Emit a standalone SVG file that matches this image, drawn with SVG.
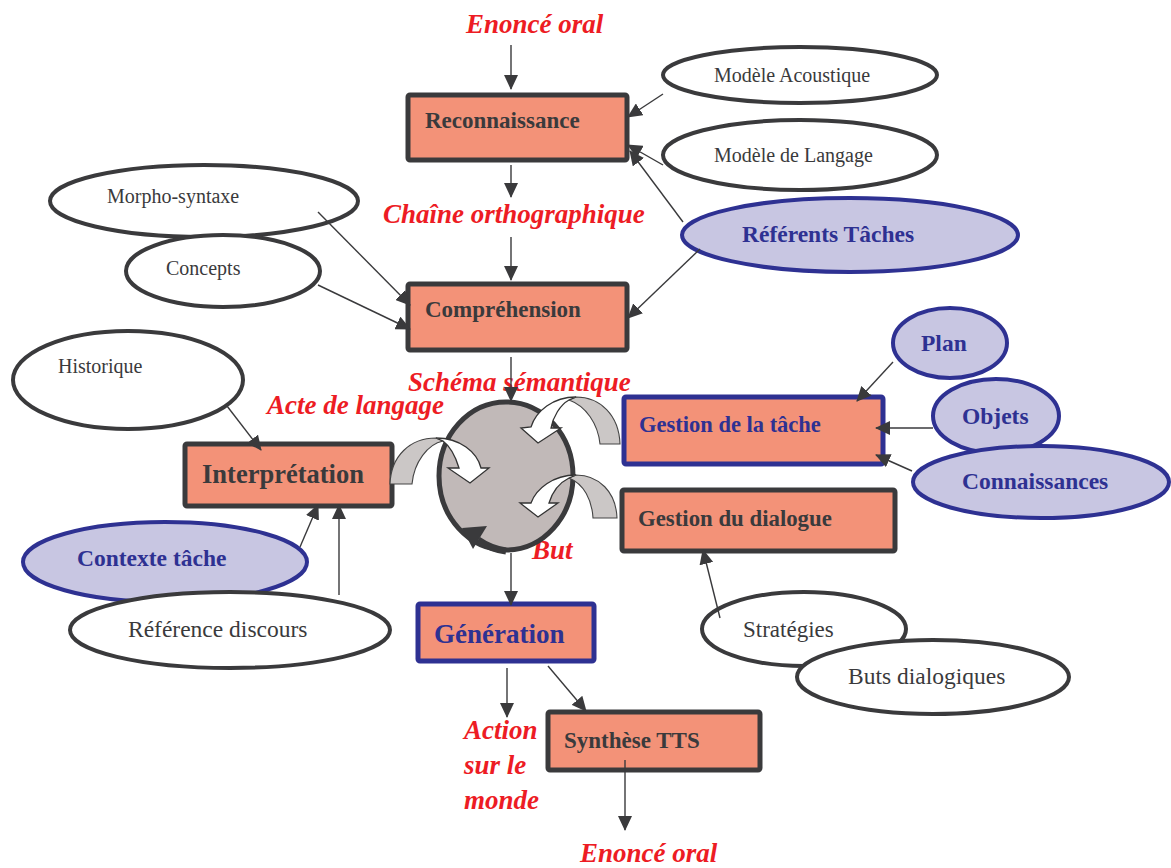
<svg xmlns="http://www.w3.org/2000/svg" width="1171" height="868" viewBox="0 0 1171 868">
<defs>
<style>
.box{fill:#f39278;stroke:#3a3a3c;stroke-width:5}
.boxb{fill:#f39278;stroke:#2e3192;stroke-width:5}
.ell{fill:#fff;stroke:#3a3a3c;stroke-width:4}
.ellb{fill:#c8c6e2;stroke:#2e3192;stroke-width:4}
.t{font-family:"Liberation Serif","Times New Roman",serif;fill:#3a3a3c}
.tb{font-family:"Liberation Serif","Times New Roman",serif;font-weight:bold;fill:#3a3a3c;font-size:23px}
.tbb{font-family:"Liberation Serif","Times New Roman",serif;font-weight:bold;fill:#2e3192;font-size:23.5px}
.lab{font-family:"Liberation Serif","Times New Roman",serif;font-weight:bold;font-style:italic;fill:#ed1c24;font-size:27px}
.c{stroke:#3a3a3c;stroke-width:1.4;fill:none;marker-end:url(#ah)}
.ua{fill:#cbc7c6;stroke:#444;stroke-width:1.1}
.uh{fill:#fff;stroke:#333;stroke-width:1.3;stroke-linejoin:miter}
</style>
<marker id="ah" markerUnits="userSpaceOnUse" markerWidth="16" markerHeight="14" refX="14" refY="7" orient="auto">
<path d="M0,0 L15,7 L0,14 Z" fill="#3a3a3c"/>
</marker>
</defs>
<rect width="1171" height="868" fill="#fff"/>

<g id="labels">
<text class="lab" x="466" y="33">Enoncé oral</text>
<text class="lab" x="383" y="223">Chaîne orthographique</text>
<text class="lab" x="408" y="391">Schéma sémantique</text>
<text class="lab" x="267" y="414">Acte de langage</text>
<text class="lab" x="532" y="559">But</text>
<text class="lab" x="464" y="739">Action</text>
<text class="lab" x="464" y="774">sur le</text>
<text class="lab" x="464" y="809">monde</text>
<text class="lab" x="580" y="862">Enoncé oral</text>
</g>

<g id="n-modele-acoustique"><ellipse class="ell" cx="800" cy="75" rx="137" ry="28"/><text class="t" x="714" y="82" font-size="20">Modèle Acoustique</text></g>
<g id="n-modele-langage"><ellipse class="ell" cx="800" cy="155" rx="137" ry="35"/><text class="t" x="714" y="162" font-size="20">Modèle de Langage</text></g>
<g id="n-referents"><ellipse class="ellb" cx="850" cy="235" rx="168" ry="37"/><text class="tbb" x="742" y="242">Référents Tâches</text></g>
<g id="n-morpho"><ellipse class="ell" cx="204" cy="201" rx="154" ry="36"/><text class="t" x="107" y="203" font-size="20">Morpho-syntaxe</text></g>
<g id="n-concepts"><ellipse class="ell" cx="223" cy="271" rx="97" ry="36"/><text class="t" x="166" y="275" font-size="20">Concepts</text></g>
<g id="n-historique"><ellipse class="ell" cx="128" cy="380" rx="115" ry="49"/><text class="t" x="58" y="373" font-size="20">Historique</text></g>
<g id="n-contexte"><ellipse class="ellb" cx="165" cy="562" rx="142" ry="40"/><text class="tbb" x="77" y="566">Contexte tâche</text></g>
<g id="n-reference"><ellipse class="ell" cx="230" cy="630" rx="160" ry="38"/><text class="t" x="128" y="637" font-size="23.5">Référence discours</text></g>
<g id="n-plan"><ellipse class="ellb" cx="950" cy="343" rx="57" ry="35"/><text class="tbb" x="921" y="351">Plan</text></g>
<g id="n-objets"><ellipse class="ellb" cx="996" cy="416" rx="63" ry="37"/><text class="tbb" x="962" y="424">Objets</text></g>
<g id="n-connaissances"><ellipse class="ellb" cx="1041" cy="482" rx="128" ry="36"/><text class="tbb" x="962" y="489">Connaissances</text></g>
<g id="n-strategies"><ellipse class="ell" cx="804" cy="629" rx="102" ry="37"/><text class="t" x="743" y="637" font-size="23">Stratégies</text></g>
<g id="n-buts"><ellipse class="ell" cx="933" cy="677" rx="136" ry="37"/><text class="t" x="848" y="684" font-size="23.5">Buts dialogiques</text></g>

<g id="n-reconnaissance"><rect class="box" x="408" y="95" width="219" height="65" rx="2"/><text class="tb" x="425" y="128">Reconnaissance</text></g>
<g id="n-comprehension"><rect class="box" x="408" y="284" width="219" height="66" rx="2"/><text class="tb" x="425" y="317">Compréhension</text></g>
<g id="n-interpretation"><rect class="box" x="185" y="444" width="207" height="62" rx="2"/><text class="tb" x="202" y="483" style="font-size:26.5px">Interprétation</text></g>
<g id="n-gestion-tache"><rect class="boxb" x="624" y="397" width="259" height="67" rx="2"/><text class="tbb" x="639" y="432" style="font-size:22.5px">Gestion de la tâche</text></g>
<g id="n-gestion-dialogue"><rect class="box" x="622" y="490" width="273" height="61" rx="2"/><text class="tb" x="638" y="526" style="font-size:22.8px">Gestion du dialogue</text></g>
<g id="n-generation"><rect class="boxb" x="418" y="604" width="176" height="57" rx="2"/><text class="tbb" x="434" y="643" style="font-size:27px">Génération</text></g>
<g id="n-synthese"><rect class="box" x="548" y="712" width="212" height="58" rx="2"/><text class="tb" x="564" y="748">Synthèse TTS</text></g>

<g id="n-cycle">
<ellipse cx="506" cy="476" rx="67" ry="74" fill="#c1b9b8" stroke="#3a3a3c" stroke-width="5"/>
<path d="M478 540 Q491 549 506 551" fill="none" stroke="#3a3a3c" stroke-width="7"/>
<polygon points="462,528 487,526 473,549" fill="#3a3a3c"/>
<path class="ua" d="M390 484 C391 456 410 438 436 438 L443 441 C428 444 414 462 412 484 Z"/>
<path class="uh" d="M436 438 C460 438 477 452 481 468 L489 468 L470 483 L448 468 L459 468 C456 458 451 447 443 441 Z"/>
<path class="ua" d="M620 444 C619 415 600 397 576 397 L569 400 C586 406 598 424 600 444 Z"/>
<path class="uh" d="M576 397 C553 397 536 411 531 427 L521 428 L538 443 L561 428 L551 428 C553 417 560 405 569 400 Z"/>
<path class="ua" d="M617 518 C616 492 599 475 576 475 L569 478 C584 484 592 500 593 518 Z"/>
<path class="uh" d="M576 475 C553 475 536 489 531 503 L520 503 L538 517 L558 503 L549 503 C552 493 559 483 569 478 Z"/>
</g>

<g id="connectors">
<line class="c" x1="511" y1="45" x2="511" y2="89"/>
<line class="c" x1="511" y1="165" x2="511" y2="197"/>
<line class="c" x1="511" y1="237" x2="511" y2="280"/>
<line class="c" x1="511" y1="357" x2="511" y2="401"/>
<line class="c" x1="511" y1="553" x2="511" y2="605"/>
<line class="c" x1="507" y1="668" x2="507" y2="717"/>
<line class="c" x1="548" y1="666" x2="586" y2="711"/>
<line class="c" x1="625" y1="760" x2="625" y2="830"/>
<line class="c" x1="663" y1="94" x2="628" y2="117"/>
<line class="c" x1="663" y1="165" x2="628" y2="145"/>
<line class="c" x1="683" y1="222" x2="630" y2="151"/>
<line class="c" x1="700" y1="249" x2="628" y2="318"/>
<line class="c" x1="318" y1="212" x2="410" y2="305"/>
<line class="c" x1="318" y1="285" x2="410" y2="329"/>
<line class="c" x1="227" y1="406" x2="261" y2="450"/>
<line class="c" x1="300" y1="547" x2="318" y2="505"/>
<line class="c" x1="339" y1="595" x2="339" y2="505"/>
<line class="c" x1="893" y1="362" x2="857" y2="401"/>
<line class="c" x1="933" y1="428" x2="876" y2="428"/>
<line class="c" x1="912" y1="471" x2="876" y2="455"/>
<line class="c" x1="720" y1="618" x2="703" y2="550"/>
</g>
</svg>
